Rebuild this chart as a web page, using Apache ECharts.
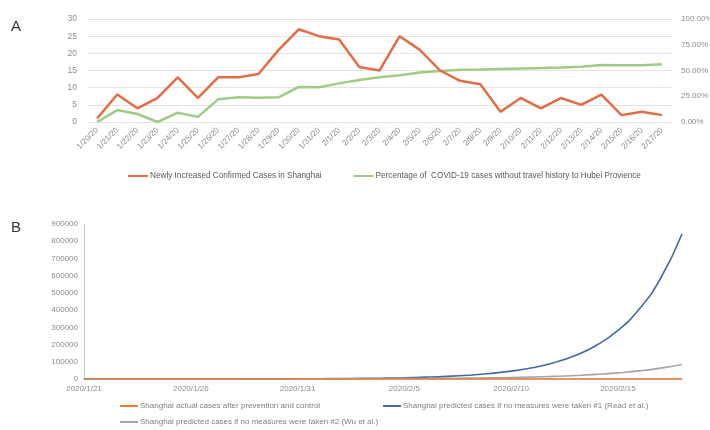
<!DOCTYPE html>
<html>
<head>
<meta charset="utf-8">
<script src="https://cdn.jsdelivr.net/npm/echarts@6/dist/echarts.min.js"></script>
<style>html,body{margin:0;padding:0;background:#fff}#c{width:710px;height:430px}</style>
</head>
<body>
<div id="c"></div>
<script>
// Panel A
const datesA = ['1/20/20','1/21/20','1/22/20','1/23/20','1/24/20','1/25/20','1/26/20','1/27/20','1/28/20','1/29/20','1/30/20','1/31/20','2/1/20','2/2/20','2/3/20','2/4/20','2/5/20','2/6/20','2/7/20','2/8/20','2/9/20','2/10/20','2/11/20','2/12/20','2/13/20','2/14/20','2/15/20','2/16/20','2/17/20'];
const newCases = [1,8,4,7,13,7,13,13,14,21,27,25,24,16,15,25,21,15,12,11,3,7,4,7,5,8,2,3,2];
const pctNoTravel = [0,11.6,7.8,0,9,5,22,24,23.6,24,34,33.7,37.5,40.8,43.4,45.3,48,49.5,50.8,51,51.5,52,52.4,53,53.7,55.3,55,55,56];
const leftTicksA = {min:0, max:30, interval:5};
const rightTicksA = {min:0, max:100, interval:25};
const nameA1 = 'Newly Increased Confirmed Cases in Shanghai';
const nameA2 = 'Percentage of  COVID-19 cases without travel history to Hubei Provience';

// Panel B
const datesB = ['2020/1/21','2020/1/22','2020/1/23','2020/1/24','2020/1/25','2020/1/26','2020/1/27','2020/1/28','2020/1/29','2020/1/30','2020/1/31','2020/2/1','2020/2/2','2020/2/3','2020/2/4','2020/2/5','2020/2/6','2020/2/7','2020/2/8','2020/2/9','2020/2/10','2020/2/11','2020/2/12','2020/2/13','2020/2/14','2020/2/15','2020/2/16','2020/2/17','2020/2/18'];
const actualCases = [9,13,20,33,40,53,66,80,101,128,153,177,193,208,233,254,269,281,292,295,302,306,313,318,326,328,331,333,333];
const predictedRead = [31,45,65,93,134,193,278,400,576,830,1190,1720,2470,3560,5100,7400,10600,15300,22000,31700,45600,65600,94500,136000,196000,282000,406000,585000,842000];
const predictedWu = [29,38,51,68,90,120,160,210,280,370,490,650,860,1150,1500,2000,2700,3600,4800,6400,8500,11300,15000,20000,26700,35500,47000,63000,84000];
const ticksB = {min:0, max:900000, interval:100000};
const nameB1 = 'Shanghai actual cases after prevention and control';
const nameB2 = 'Shanghai predicted cases if no measures were taken #1 (Read et al.)';
const nameB3 = 'Shanghai predicted cases if no measures were taken #2 (Wu et al.)';

const cRed = '#E46C45', cGreen = '#A0CB85', cOrange = '#ED7D31', cBlue = '#4468A8', cGray = '#A5A5A5';
const fA = 'Liberation Sans, Arial, sans-serif';
const fB = 'Liberation Sans, Arial, sans-serif';

const chart = echarts.init(document.getElementById('c'), null, {renderer:'canvas'});
chart.setOption({
  animation:false,
  backgroundColor:'#fff',
  title:[
    {text:'A', left:11, top:19, padding:0, textStyle:{fontSize:15, fontWeight:'normal', color:'#333', fontFamily:fA}},
    {text:'B', left:11, top:220, padding:0, textStyle:{fontSize:15, fontWeight:'normal', color:'#333', fontFamily:fA}}
  ],
  grid:[
    {left:87, right:38, top:19, bottom:308, outerBoundsMode:'none', containLabel:false},
    {left:84, right:28, top:224, bottom:51, outerBoundsMode:'none', containLabel:false}
  ],
  legend:[
    {data:[nameA1, nameA2], left:128, top:172, padding:0, icon:'rect', itemWidth:20, itemHeight:2, itemGap:32,
     textStyle:{fontSize:8.2, color:'#595959', fontFamily:fA, padding:[0,0,0,-3]}},
    {data:[nameB1], left:120, top:402, padding:0, icon:'rect', itemWidth:18, itemHeight:2,
     textStyle:{fontSize:8, color:'#7f7f7f', fontFamily:fB, padding:[0,0,0,-3]}},
    {data:[nameB2], left:383, top:402, padding:0, icon:'rect', itemWidth:18, itemHeight:2,
     textStyle:{fontSize:8, color:'#7f7f7f', fontFamily:fB, padding:[0,0,0,-3]}},
    {data:[nameB3], left:120, top:418, padding:0, icon:'rect', itemWidth:18, itemHeight:2,
     textStyle:{fontSize:8, color:'#7f7f7f', fontFamily:fB, padding:[0,0,0,-3]}}
  ],
  xAxis:[
    {type:'category', gridIndex:0, data:datesA, boundaryGap:true,
     axisLine:{show:false}, axisTick:{show:false},
     axisLabel:{rotate:45, fontSize:8, color:'#8c8c8c', fontFamily:fA, margin:7, interval:0}},
    {type:'category', gridIndex:1, data:datesB, boundaryGap:false,
     axisLine:{show:true, lineStyle:{color:'#b4b4be', width:1.5}}, axisTick:{show:false},
     axisLabel:{interval:4, fontSize:8, color:'#8c8c8c', fontFamily:fB, margin:6}}
  ],
  yAxis:[
    {type:'value', gridIndex:0, min:leftTicksA.min, max:leftTicksA.max, interval:leftTicksA.interval,
     axisLine:{show:false}, axisTick:{show:false},
     splitLine:{lineStyle:{color:'#e3e3e3'}},
     axisLabel:{fontSize:8.5, color:'#8c8c8c', fontFamily:fA, margin:10}},
    {type:'value', gridIndex:0, min:rightTicksA.min, max:rightTicksA.max, interval:rightTicksA.interval, position:'right',
     axisLine:{show:false}, axisTick:{show:false}, splitLine:{show:false},
     axisLabel:{fontSize:8, color:'#8c8c8c', fontFamily:fA, margin:9, formatter:v=>v.toFixed(2)+'%'}},
    {type:'value', gridIndex:1, min:ticksB.min, max:ticksB.max, interval:ticksB.interval,
     axisLine:{show:true, lineStyle:{color:'#c4c4cc', width:1}}, axisTick:{show:false},
     splitLine:{show:false},
     axisLabel:{fontSize:8, color:'#8c8c8c', fontFamily:fB, margin:6, formatter:v=>String(v)}}
  ],
  series:[
    {name:nameA1, type:'line', xAxisIndex:0, yAxisIndex:0, data:newCases, symbol:'none',
     lineStyle:{color:cRed, width:2.5}, itemStyle:{color:cRed}, z:3},
    {name:nameA2, type:'line', xAxisIndex:0, yAxisIndex:1, data:pctNoTravel, symbol:'none',
     lineStyle:{color:cGreen, width:2.5}, itemStyle:{color:cGreen}, z:2},
    {name:nameB2, type:'line', xAxisIndex:1, yAxisIndex:2, data:predictedRead, symbol:'none', smooth:true,
     lineStyle:{color:cBlue, width:1.6}, itemStyle:{color:cBlue}, z:2},
    {name:nameB3, type:'line', xAxisIndex:1, yAxisIndex:2, data:predictedWu, symbol:'none', smooth:true,
     lineStyle:{color:cGray, width:1.6}, itemStyle:{color:cGray}, z:3},
    {name:nameB1, type:'line', xAxisIndex:1, yAxisIndex:2, data:actualCases, symbol:'none',
     lineStyle:{color:cOrange, width:1.6}, itemStyle:{color:cOrange}, z:4}
  ]
});
</script>
</body>
</html>
